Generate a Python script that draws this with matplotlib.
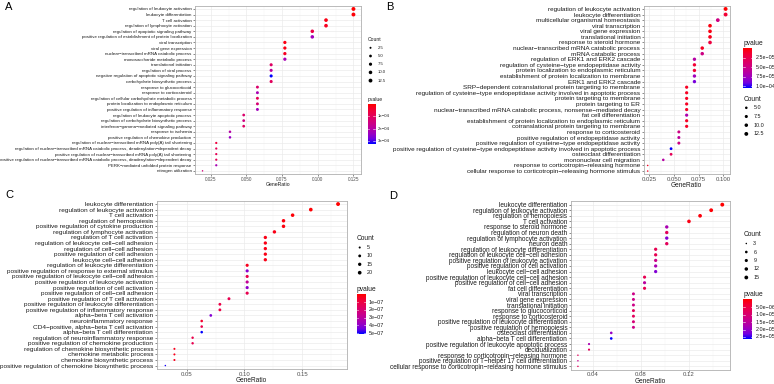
import numpy as np
import matplotlib
matplotlib.use('Agg')
import matplotlib.pyplot as plt
from matplotlib.colors import LinearSegmentedColormap, Normalize
from matplotlib.ticker import AutoMinorLocator

plt.rcParams['font.family'] = ['Liberation Sans', 'DejaVu Sans']

W, H = 774, 384

# red -> blue gradient, interpolated like ggplot (Lab space)
cmap = LinearSegmentedColormap.from_list(
    'rb', ['#FF0000', '#F40031', '#E8004F', '#DA006C', '#CA0089',
           '#B500A5', '#9A00C3', '#7300E0', '#0000FF'])

# ---------------- panel A ----------------
termsA = [
    "regulation of leukocyte activation",
    "leukocyte differentiation",
    "T cell activation",
    "regulation of lymphocyte activation",
    "regulation of apoptotic signaling pathway",
    "positive regulation of establishment of protein localization",
    "viral transcription",
    "viral gene expression",
    "nuclear−transcribed mRNA catabolic process",
    "monosaccharide metabolic process",
    "translational initiation",
    "regulation of viral process",
    "negative regulation of apoptotic signaling pathway",
    "carbohydrate biosynthetic process",
    "response to glucocorticoid",
    "response to corticosteroid",
    "regulation of cellular carbohydrate metabolic process",
    "protein localization to endoplasmic reticulum",
    "positive regulation of inflammatory response",
    "regulation of leukocyte apoptotic process",
    "regulation of carbohydrate biosynthetic process",
    "interferon−gamma−mediated signaling pathway",
    "response to ischemia",
    "positive regulation of chemokine production",
    "regulation of nuclear−transcribed mRNA poly(A) tail shortening",
    "regulation of nuclear−transcribed mRNA catabolic process, deadenylation−dependent decay",
    "positive regulation of nuclear−transcribed mRNA poly(A) tail shortening",
    "positive regulation of nuclear−transcribed mRNA catabolic process, deadenylation−dependent decay",
    "PERK−mediated unfolded protein response",
    "nitrogen utilization",
]
countA = [13, 13, 11, 11, 10, 10, 8, 8, 8, 8, 7, 7, 7, 7, 6, 6, 6, 6, 6,
          5, 5, 5, 4, 4, 3, 3, 3, 3, 3, 2]
totalA = 104
pvalA = [3e-6, 1e-5, 2e-5, 3e-5, 7e-5, 2.3e-4, 2e-5, 2e-5, 3e-5, 2.2e-4,
         1.1e-4, 1.9e-4, 3.2e-4, 1.0e-4, 1.2e-4, 2.2e-4, 9e-5, 1.3e-4, 2.3e-4,
         1.2e-4, 1.5e-4, 1.1e-4, 2.0e-4, 2.4e-4, 6e-5, 9e-5, 9e-5, 9e-5, 2.2e-4,
         1.4e-4]
xticksA = [0.025, 0.050, 0.075, 0.100, 0.125]
xlabelsA = ['0.025', '0.050', '0.075', '0.100', '0.125']
sizeBreaksA = [2.5, 5, 7.5, 10, 12.5]
sizeLabelsA = ['2.5', '5.0', '7.5', '10.0', '12.5']
pBreaksA = [1e-4, 2e-4, 3e-4]
pLabelsA = ['1e−04', '2e−04', '3e−04']

# ---------------- panel B ----------------
termsB = [
    "regulation of leukocyte activation",
    "leukocyte differentiation",
    "multicellular organismal homeostasis",
    "viral transcription",
    "viral gene expression",
    "translational initiation",
    "response to steroid hormone",
    "nuclear−transcribed mRNA catabolic process",
    "mRNA catabolic process",
    "regulation of ERK1 and ERK2 cascade",
    "regulation of cysteine−type endopeptidase activity",
    "protein localization to endoplasmic reticulum",
    "establishment of protein localization to membrane",
    "ERK1 and ERK2 cascade",
    "SRP−dependent cotranslational protein targeting to membrane",
    "regulation of cysteine−type endopeptidase activity involved in apoptotic process",
    "protein targeting to membrane",
    "protein targeting to ER",
    "nuclear−transcribed mRNA catabolic process, nonsense−mediated decay",
    "fat cell differentiation",
    "establishment of protein localization to endoplasmic reticulum",
    "cotranslational protein targeting to membrane",
    "response to corticosteroid",
    "positive regulation of endopeptidase activity",
    "positive regulation of cysteine−type endopeptidase activity",
    "positive regulation of cysteine−type endopeptidase activity involved in apoptotic process",
    "osteoclast differentiation",
    "mononuclear cell migration",
    "response to corticotropin−releasing hormone",
    "cellular response to corticotropin−releasing hormone stimulus",
]
countB = [13, 13, 12, 11, 11, 11, 11, 10, 10, 9, 9, 9, 9, 9, 8, 8, 8, 8, 8,
          8, 8, 8, 7, 7, 7, 6, 6, 5, 3, 3]
totalB = 127
pvalB = [5e-7, 1.5e-5, 5e-5, 5e-6, 5e-6, 8e-6, 2e-5, 1e-5, 5e-5, 6.5e-5,
         1.5e-5, 1.5e-5, 7.5e-5, 9e-5, 1e-5, 1e-5, 1e-5, 1e-5, 1e-5, 7e-5,
         1e-5, 1e-5, 5e-5, 6e-5, 5e-5, 1.05e-4, 3e-5, 6.5e-5, 1e-5, 1e-5]
xticksB = [0.025, 0.050, 0.075, 0.100]
xlabelsB = ['0.025', '0.050', '0.075', '0.100']
sizeBreaksB = [5, 7.5, 10, 12.5]
sizeLabelsB = ['5.0', '7.5', '10.0', '12.5']
pBreaksB = [2.5e-5, 5e-5, 7.5e-5, 1e-4]
pLabelsB = ['2.5e−05', '5.0e−05', '7.5e−05', '1.0e−04']

# ---------------- panel C ----------------
termsC = [
    "leukocyte differentiation",
    "regulation of leukocyte activation",
    "T cell activation",
    "regulation of hemopoiesis",
    "positive regulation of cytokine production",
    "regulation of lymphocyte activation",
    "regulation of T cell activation",
    "regulation of leukocyte cell−cell adhesion",
    "regulation of cell−cell adhesion",
    "positive regulation of cell adhesion",
    "leukocyte cell−cell adhesion",
    "regulation of leukocyte differentiation",
    "positive regulation of response to external stimulus",
    "positive regulation of leukocyte cell−cell adhesion",
    "positive regulation of leukocyte activation",
    "positive regulation of cell activation",
    "positive regulation of cell−cell adhesion",
    "positive regulation of T cell activation",
    "positive regulation of leukocyte differentiation",
    "positive regulation of inflammatory response",
    "alpha−beta T cell activation",
    "neuroinflammatory response",
    "CD4−positive, alpha−beta T cell activation",
    "alpha−beta T cell differentiation",
    "regulation of neuroinflammatory response",
    "positive regulation of chemokine production",
    "regulation of chemokine biosynthetic process",
    "chemokine metabolic process",
    "chemokine biosynthetic process",
    "positive regulation of chemokine biosynthetic process",
]
countC = [23, 20, 18, 17, 17, 16, 15, 15, 15, 15, 15, 13, 13, 13, 13, 13, 13,
          11, 10, 10, 9, 8, 8, 8, 7, 7, 5, 5, 5, 4]
totalC = 127
pvalC = [1e-9, 5e-9, 1e-8, 2e-8, 2e-8, 3e-8, 3e-8, 3e-8, 3e-8, 3e-8, 3e-8,
         4e-8, 4.1e-7, 1.2e-7, 2.8e-7, 4e-7, 1.3e-7, 1.3e-7, 1.1e-7, 1.1e-7,
         4.2e-7, 6e-8, 1.2e-7, 5.1e-7, 1.2e-7, 1.3e-7, 4e-8, 4e-8, 4e-8, 5e-7]
xticksC = [0.05, 0.10, 0.15]
xlabelsC = ['0.05', '0.10', '0.15']
sizeBreaksC = [5, 10, 15, 20]
sizeLabelsC = ['5', '10', '15', '20']
pBreaksC = [1e-7, 2e-7, 3e-7, 4e-7, 5e-7]
pLabelsC = ['1e−07', '2e−07', '3e−07', '4e−07', '5e−07']

# ---------------- panel D ----------------
termsD = [
    "leukocyte differentiation",
    "regulation of leukocyte activation",
    "regulation of hemopoiesis",
    "T cell activation",
    "response to steroid hormone",
    "regulation of neuron death",
    "regulation of lymphocyte activation",
    "neuron death",
    "regulation of leukocyte differentiation",
    "regulation of leukocyte cell−cell adhesion",
    "positive regulation of leukocyte activation",
    "positive regulation of cell activation",
    "leukocyte cell−cell adhesion",
    "positive regulation of leukocyte cell−cell adhesion",
    "positive regulation of cell−cell adhesion",
    "fat cell differentiation",
    "viral transcription",
    "viral gene expression",
    "translational initiation",
    "response to glucocorticoid",
    "response to corticosteroid",
    "positive regulation of leukocyte differentiation",
    "positive regulation of hemopoiesis",
    "osteoclast differentiation",
    "alpha−beta T cell differentiation",
    "positive regulation of leukocyte apoptotic process",
    "decidualization",
    "response to corticotropin−releasing hormone",
    "positive regulation of T−helper 17 cell differentiation",
    "cellular response to corticotropin−releasing hormone stimulus",
]
countD = [16, 15, 14, 13, 11, 11, 11, 11, 10, 10, 10, 10, 10, 9, 9, 9, 8, 8,
          8, 8, 8, 8, 8, 6, 6, 4, 4, 3, 3, 3]
totalD = 108
pvalD = [1e-7, 5e-7, 1e-6, 1.5e-6, 1.8e-5, 8e-6, 2.2e-5, 8e-6, 7e-6, 7e-6,
         1.3e-5, 1.8e-5, 2.2e-5, 7e-6, 1.6e-5, 7e-6, 1.3e-5, 1.3e-5, 1.3e-5,
         8e-6, 8e-6, 1.1e-5, 1.3e-5, 2e-5, 2.66e-5, 1.8e-5, 8e-6, 8e-6, 1.4e-5,
         8e-6]
xticksD = [0.04, 0.08, 0.12]
xlabelsD = ['0.04', '0.08', '0.12']
sizeBreaksD = [3, 6, 9, 12, 15]
sizeLabelsD = ['3', '6', '9', '12', '15']
pBreaksD = [5e-6, 1e-5, 1.5e-5, 2e-5, 2.5e-5]
pLabelsD = ['5.0e−06', '1.0e−05', '1.5e−05', '2.0e−05', '2.5e−05']


def dot_size(c, cmin, cmax, dmin=1.5, dmax=3.9):
    # ggplot area_pal: diameter grows with sqrt of rescaled count
    t = (np.asarray(c, float) - cmin) / (cmax - cmin)
    t = np.clip(t, 0, 1)
    d = dmin + (dmax - dmin) * np.sqrt(t)
    return (d * 0.72) ** 2


fig = plt.figure(figsize=(W / 100, H / 100), dpi=100)

# overlay in pixel coords for letters and legends
ov = fig.add_axes([0, 0, 1, 1], zorder=5)
ov.patch.set_alpha(0)


def panel(box, terms, counts, total, pvals, xticks, xlabels,
          fs_y, fs_x, letter, letter_xy):
    x0, y0, x1, y1 = box
    ax = fig.add_axes([x0 / W, 1 - y1 / H, (x1 - x0) / W, (y1 - y0) / H])
    ratio = np.array(counts) / total
    ypos = np.arange(len(terms))
    pv = np.array(pvals)
    norm = Normalize(pv.min(), pv.max())
    ax.scatter(ratio, ypos, s=dot_size(counts, min(counts), max(counts)),
               c=pv, cmap=cmap, norm=norm, linewidths=0, zorder=3)
    rng = ratio.max() - ratio.min()
    ax.set_xlim(ratio.min() - 0.05 * rng, ratio.max() + 0.05 * rng)
    ax.set_ylim(len(terms) - 0.4, -0.6)
    ax.set_yticks(ypos)
    ax.set_yticklabels(terms, fontsize=fs_y, color='#1a1a1a')
    ax.set_xticks(xticks)
    ax.set_xticklabels(xlabels, fontsize=fs_x, color='#4d4d4d')
    ax.xaxis.set_minor_locator(AutoMinorLocator(2))
    ax.tick_params(axis='y', which='major', length=1.5, width=0.4,
                   color='#333333', pad=1)
    ax.tick_params(axis='x', which='major', length=1.3, width=0.4,
                   color='#333333', pad=0.6)
    ax.tick_params(axis='x', which='minor', length=0)
    ax.grid(True, which='major', color='#ebebeb', linewidth=0.5, zorder=0)
    ax.grid(True, which='minor', axis='x', color='#f4f4f4', linewidth=0.35,
            zorder=0)
    ax.set_axisbelow(True)
    for sp in ax.spines.values():
        sp.set_color('#b0b0b0')
        sp.set_linewidth(0.6)
    ax.set_xlabel('GeneRatio', fontsize=fs_x + 0.4, color='#1a1a1a',
                  labelpad=0.3)
    ov.text(letter_xy[0], letter_xy[1], letter, fontsize=8, va='top',
            ha='left')
    return pv, norm


def count_legend(x, y, step, counts, breaks, labels, fs_t, fs_l):
    ov.text(x, y, 'Count', fontsize=fs_t, va='center', ha='left',
            color='#1a1a1a')
    ys = y + 8.5 + step * np.arange(len(breaks))
    ov.scatter(np.full(len(breaks), x + 3), ys,
               s=dot_size(breaks, min(counts), max(counts)), c='black',
               linewidths=0)
    for yy, lab in zip(ys, labels):
        ov.text(x + 10, yy, lab, fontsize=fs_l, va='center', ha='left',
                color='#1a1a1a')


def p_legend(x, y, bar_h, pv, breaks, labels, fs_t, fs_l, bar_w=8):
    ov.text(x, y, 'pvalue', fontsize=fs_t, va='center', ha='left',
            color='#1a1a1a')
    top = y + 5
    grad = np.linspace(0, 1, 100).reshape(-1, 1)
    ov.imshow(grad, cmap=cmap, aspect='auto', origin='upper',
              extent=[x, x + bar_w, top + bar_h, top])
    for b, lab in zip(breaks, labels):
        yy = top + (b - pv.min()) / (pv.max() - pv.min()) * bar_h
        ov.plot([x, x + 1.6], [yy, yy], color='white', lw=0.4)
        ov.plot([x + bar_w - 1.6, x + bar_w], [yy, yy], color='white', lw=0.4)
        ov.text(x + bar_w + 3, yy, lab, fontsize=fs_l, va='center',
                ha='left', color='#1a1a1a')


# A
pvA, _ = panel((195, 5.6, 361, 174.2), termsA, countA, totalA, pvalA,
               xticksA, xlabelsA, 3.15, 3.3, 'A', (5, 2))
count_legend(367.5, 39.3, 8.2, countA, sizeBreaksA, sizeLabelsA, 3.6, 3.1)
p_legend(367.5, 99.3, 39.3, pvA, pBreaksA, pLabelsA, 3.6, 3.1, bar_w=7.5)

# B
pvB, _ = panel((643.8, 5.6, 729.5, 174.4), termsB, countB, totalB, pvalB,
               xticksB, xlabelsB, 4.6, 4.3, 'B', (386, 1.5))
p_legend(743.3, 43.3, 39.6, pvB, pBreaksB, pLabelsB, 4.8, 3.9, bar_w=9)
count_legend(743.3, 99.3, 8.7, countB, sizeBreaksB, sizeLabelsB, 4.8, 3.9)

# C
pvC, _ = panel((156.7, 200.7, 346.7, 368.9), termsC, countC, totalC, pvalC,
               xticksC, xlabelsC, 4.65, 4.3, 'C', (5, 190))
count_legend(356.7, 239, 8.4, countC, sizeBreaksC, sizeLabelsC, 4.8, 3.9)
p_legend(356.7, 289.3, 39.7, pvC, pBreaksC, pLabelsC, 4.8, 3.9, bar_w=9)

# D
pvD, _ = panel((570.7, 201.3, 729.5, 369.7), termsD, countD, totalD, pvalD,
               xticksD, xlabelsD, 4.7, 4.3, 'D', (389, 191))
count_legend(743.3, 235, 8.5, countD, sizeBreaksD, sizeLabelsD, 4.8, 3.9)
p_legend(743.3, 295, 39.3, pvD, pBreaksD, pLabelsD, 4.8, 3.9, bar_w=9)

ov.set_xlim(0, W)
ov.set_ylim(H, 0)
ov.axis('off')

fig.savefig('out.png', dpi=100)
